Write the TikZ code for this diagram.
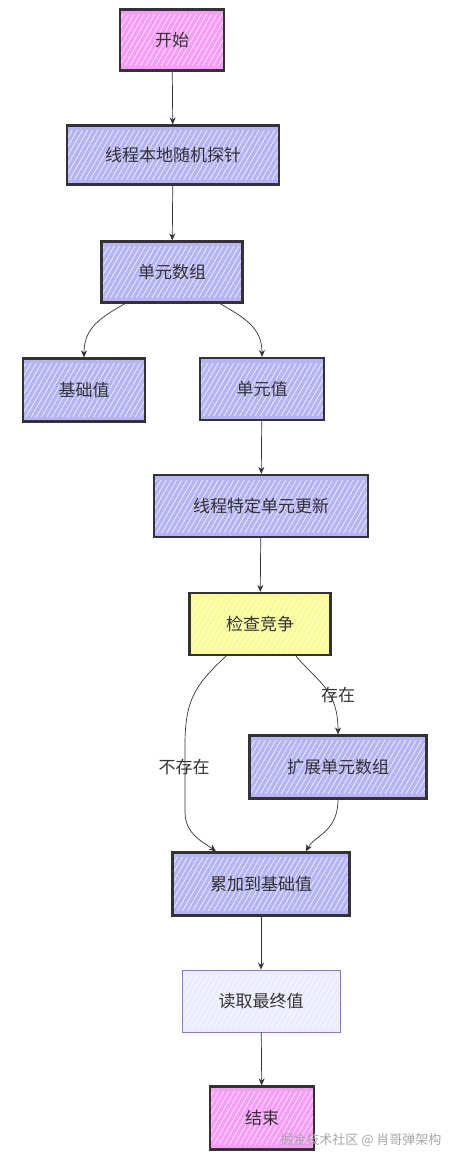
\documentclass[tikz,border=0pt]{standalone}
\usepackage{fontspec}
\setmainfont{Noto Sans CJK SC}
\usetikzlibrary{patterns.meta,arrows.meta}
\definecolor{pinkfill}{HTML}{F99CF9}
\definecolor{bluefill}{HTML}{B4B4F6}
\definecolor{yellowfill}{HTML}{FBFB94}
\definecolor{lightfill}{HTML}{ECECFF}
\definecolor{purpleline}{HTML}{9370DB}
\definecolor{ink}{HTML}{333333}
\tikzset{
  hatch/.style={path picture={\fill[pattern={Lines[angle=60,distance=4.5pt,line width=0.8pt]}, pattern color=white, opacity=0.75]
    ([shift={(-5pt,5pt)}]path picture bounding box.south west) rectangle ([shift={(5pt,-5pt)}]path picture bounding box.north east);}},
  box/.style={draw=ink, line width=2.2pt, text=ink, font=\fontsize{17}{20}\selectfont,
    inner sep=0pt, hatch},
  pinkbox/.style={box, fill=pinkfill},
  bluebox/.style={box, fill=bluefill},
  yellowbox/.style={box, fill=yellowfill},
  lightbox/.style={box, fill=lightfill, draw=purpleline, line width=0.8pt},
  arr/.style={draw=ink, line width=0.7pt, -{Stealth[length=7pt,width=6pt]}},
  lbl/.style={text=ink, font=\fontsize{17}{20}\selectfont, inner sep=1pt},
}
\begin{document}
\begin{tikzpicture}[x=1pt,y=-1pt]
\useasboundingbox (0,0) rectangle (460,1164);
\node[pinkbox, minimum width=104pt, minimum height=61pt] (start) at (172,40) {开始};
\node[bluebox, minimum width=212pt, minimum height=59pt] (probe) at (173,155) {线程本地随机探针};
\node[bluebox, minimum width=141pt, minimum height=61pt] (cells) at (172,272) {单元数组};
\node[bluebox, minimum width=122pt, minimum height=63pt] (base) at (84,390) {基础值};
\node[bluebox, minimum width=124pt, minimum height=62pt] (cell) at (262,389) {单元值};
\node[bluebox, minimum width=214pt, minimum height=62pt] (update) at (261,506) {线程特定单元更新};
\node[yellowbox, minimum width=141pt, minimum height=62pt] (check) at (260,624) {检查竞争};
\node[bluebox, minimum width=177pt, minimum height=63pt] (expand) at (338,767) {扩展单元数组};
\node[bluebox, minimum width=177pt, minimum height=63pt] (acc) at (261,884) {累加到基础值};
\node[lightbox, minimum width=158pt, minimum height=62pt] (read) at (261,1001) {读取最终值};
\node[pinkbox, minimum width=104pt, minimum height=63pt] (end) at (262,1118) {结束};

\draw[arr] (start) -- (probe);
\draw[arr] (probe) -- (cells);
\draw[arr] ([xshift=-47pt]cells.south) .. controls (100,318) and (84,328) .. (base.north);
\draw[arr] ([xshift=48pt]cells.south) .. controls (245,318) and (262,328) .. (cell.north);
\draw[arr] (cell) -- (update);
\draw[arr] (update) -- (check);
\draw[arr] ([xshift=36pt]check.south) .. controls (318,682) and (338,690) .. (expand.north);
\draw[arr] ([xshift=-34pt]check.south) .. controls (195,685) and (185,700) .. (185,745)
   -- (185,812) .. controls (185,835) and (205,843) .. ([xshift=-45pt]acc.north);
\draw[arr] (expand.south) .. controls (338,832) and (314,836) .. ([xshift=45pt]acc.north);
\draw[arr] (acc) -- (read);
\draw[arr] (read) -- (end);

\node[lbl] (l1) at (338,695) {存在};
\node[lbl] (l2) at (184,767) {不存在};
\node[text=gray!70, font=\fontsize{13}{15}\selectfont, anchor=east] (wm) at (445,1140) {掘金技术社区 @ 肖哥弹架构};
\end{tikzpicture}
\end{document}
